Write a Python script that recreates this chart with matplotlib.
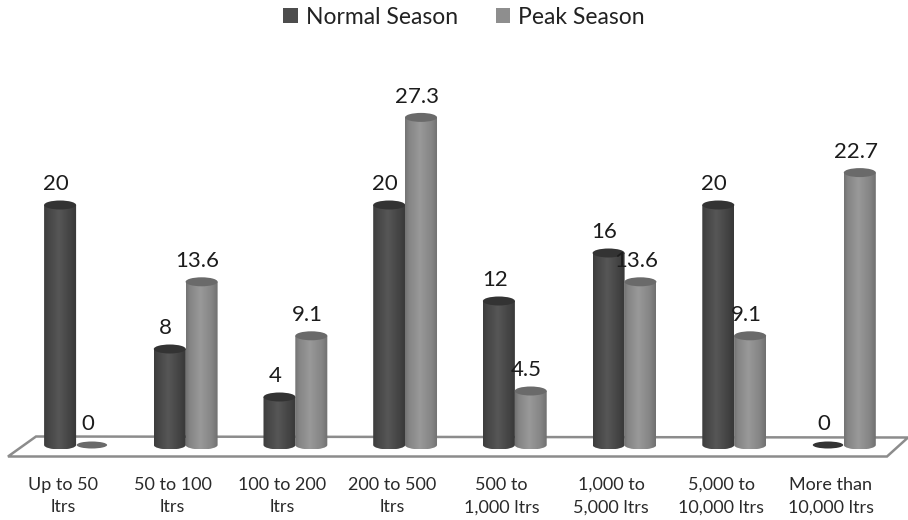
import numpy as np
import matplotlib
matplotlib.use("Agg")
import matplotlib.pyplot as plt
from matplotlib.patches import Ellipse, Polygon, PathPatch, Patch
from matplotlib.path import Path

categories = ["Up to 50\nltrs", "50 to 100\nltrs", "100 to 200\nltrs", "200 to 500\nltrs",
              "500 to\n1,000 ltrs", "1,000 to\n5,000 ltrs", "5,000 to\n10,000 ltrs",
              "More than\n10,000 ltrs"]
normal = [20, 8, 4, 20, 12, 16, 20, 0]
peak = [0, 13.6, 9.1, 27.3, 4.5, 13.6, 9.1, 22.7]

plt.rcParams['font.family'] = ['Lato', 'DejaVu Sans']
W, H = 908, 520
fig = plt.figure(figsize=(W / 100, H / 100), dpi=100, facecolor='white')
top_px, bot_px = 20, 460
ax = fig.add_axes([0, (H - bot_px) / H, 1, (bot_px - top_px) / H])
PX_X, PX_Y = 109.7, 12.0
x0_px, y0_px = 76, 445
ax.set_xlim(-x0_px / PX_X, (W - x0_px) / PX_X)
ax.set_ylim(-(bot_px - y0_px) / PX_Y, (y0_px - top_px) / PX_Y)
for s in ax.spines.values():
    s.set_visible(False)
ax.set_yticks([])
ax.set_xticks(np.arange(len(categories)) - 0.12)
ax.set_xticklabels(categories, fontsize=13, color='#2a2a2a', linespacing=1.5)
ax.tick_params(axis='x', length=0, pad=12)

# floor of the 3D plot, in axes fractions
fx = lambda p: p / W
fy = lambda p: (bot_px - p) / (bot_px - top_px)
floor = [(fx(8), fy(456.5)), (fx(36), fy(436.5)), (fx(908), fy(437.5)), (fx(887), fy(456.5))]
ax.add_patch(Polygon(floor, closed=True, transform=ax.transAxes, facecolor='white',
                     edgecolor='#8c8c8c', linewidth=1.8, zorder=1))

bar_w = 32 / PX_X
ell_h = 9 / PX_Y


def cylinder(xc, val, cmap_vals, top_col, z):
    if val == 0:
        ax.add_patch(Ellipse((xc, 0), bar_w * 0.95, 7 / PX_Y, facecolor=top_col,
                             edgecolor='none', zorder=z))
        return
    l, r = xc - bar_w / 2, xc + bar_w / 2
    k = 0.5523
    a, b = bar_w / 2, ell_h / 2
    verts = [(l, val), (l, 0), (l, -k * b), (xc - k * a, -b), (xc, -b),
             (xc + k * a, -b), (r, -k * b), (r, 0), (r, val), (l, val)]
    codes = [Path.MOVETO, Path.LINETO, Path.CURVE4, Path.CURVE4, Path.CURVE4,
             Path.CURVE4, Path.CURVE4, Path.CURVE4, Path.LINETO, Path.CLOSEPOLY]
    clip = PathPatch(Path(verts, codes), transform=ax.transData, facecolor='none', edgecolor='none')
    ax.add_patch(clip)
    pos = np.linspace(0, 1, 64)
    grad = np.interp(pos, [0, 0.12, 0.45, 0.82, 1], cmap_vals).reshape(1, -1)
    im = ax.imshow(grad, extent=[l, r, -b, val], aspect='auto', cmap='gray', vmin=0, vmax=1,
                   zorder=z, interpolation='bilinear')
    im.set_clip_path(clip)
    ax.add_patch(Ellipse((xc, val), bar_w, ell_h, facecolor=top_col, edgecolor='none', zorder=z + 0.1))


dx = 0.145
for i, v in enumerate(normal):
    cylinder(i - dx, v, [0.24, 0.27, 0.34, 0.26, 0.22], '#333333', 3)
for i, v in enumerate(peak):
    cylinder(i + dx, v, [0.45, 0.52, 0.60, 0.52, 0.44], '#6a6a6a', 4)

for xs, vals in ((np.arange(8) - dx, normal), (np.arange(8) + dx, peak)):
    for x, v in zip(xs, vals):
        ax.annotate(f"{v}", (x, v), xytext=(-3, 15), textcoords='offset points', ha='center',
                    va='center', fontsize=16, color='#1c1c1c', zorder=6)

ax.set_xlim(-x0_px / PX_X, (W - x0_px) / PX_X)
ax.set_ylim(-(bot_px - y0_px) / PX_Y, (y0_px - top_px) / PX_Y)

handles = [Patch(facecolor='#4d4d4d', label='Normal Season'), Patch(facecolor='#8e8e8e', label='Peak Season')]
fig.legend(handles=handles, loc='center', bbox_to_anchor=(464 / W, 1 - 17 / H), ncol=2, frameon=False,
           fontsize=16.5, handlelength=0.62, handleheight=0.62, handletextpad=0.35, columnspacing=1.65,
           labelcolor='#222222', borderpad=0)
fig.savefig('out.png', dpi=100)
